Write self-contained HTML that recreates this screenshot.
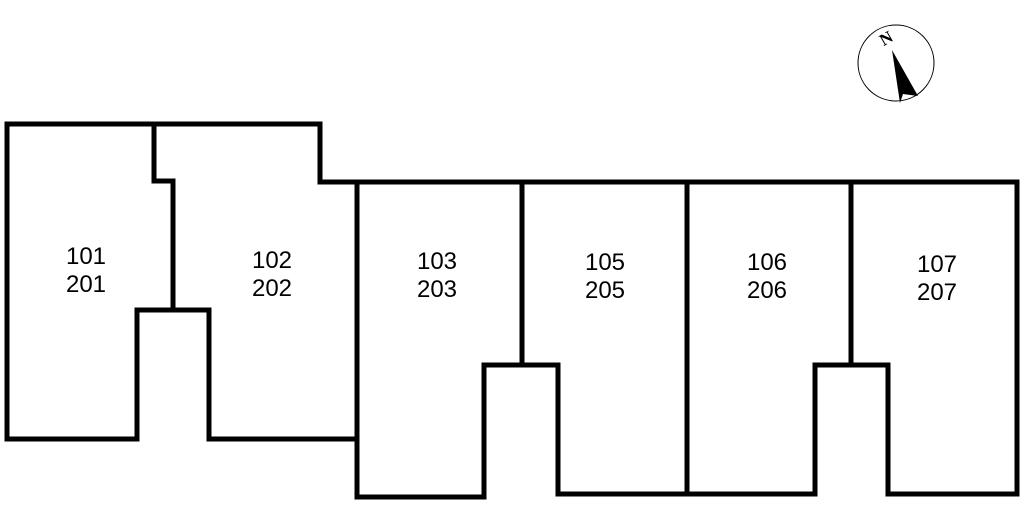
<!DOCTYPE html>
<html><head><style>
html,body{margin:0;padding:0;background:#fff;width:1024px;height:512px;overflow:hidden}
svg{display:block}
text.l{font-family:"Liberation Sans","Noto Sans CJK JP",sans-serif;font-size:24px;fill:#000}
</style></head><body>
<svg width="1024" height="512" viewBox="0 0 1024 512" xmlns="http://www.w3.org/2000/svg">
<g fill="none" stroke="#000" stroke-width="5" stroke-linecap="square">
<polyline points="137,439 7,439 7,124 320,124 320,182 357,182"/>
<polyline points="154,124 154,181 173,181 173,310"/>
<polyline points="137,439 137,310 209,310 209,439 357,439"/>
<polyline points="357,182 1017,182 1017,494 888,494 888,365 815,365 815,494 558,494 558,365 484,365 484,497 357,497 357,182"/>
<line x1="522" y1="182" x2="522" y2="365"/>
<line x1="687" y1="182" x2="687" y2="494"/>
<line x1="851" y1="182" x2="851" y2="365"/>
</g>
<g text-anchor="middle">
<text class="l" x="86" y="264">101</text><text class="l" x="86" y="292">201</text>
<text class="l" x="272" y="268">102</text><text class="l" x="272" y="296">202</text>
<text class="l" x="437" y="269">103</text><text class="l" x="437" y="297">203</text>
<text class="l" x="605" y="270">105</text><text class="l" x="605" y="298">205</text>
<text class="l" x="767" y="270">106</text><text class="l" x="767" y="298">206</text>
<text class="l" x="937" y="272">107</text><text class="l" x="937" y="300">207</text>
</g>
<circle cx="896" cy="63" r="38" fill="none" stroke="#000" stroke-width="1"/>
<polygon points="892,50 918,96 903,94 900,103" fill="#000"/>
<text x="886" y="44" text-anchor="middle" transform="rotate(-30 886 38)" style="font-family:'Liberation Serif',serif;font-size:17px;font-weight:bold;fill:#000">N</text>
</svg>
</body></html>
